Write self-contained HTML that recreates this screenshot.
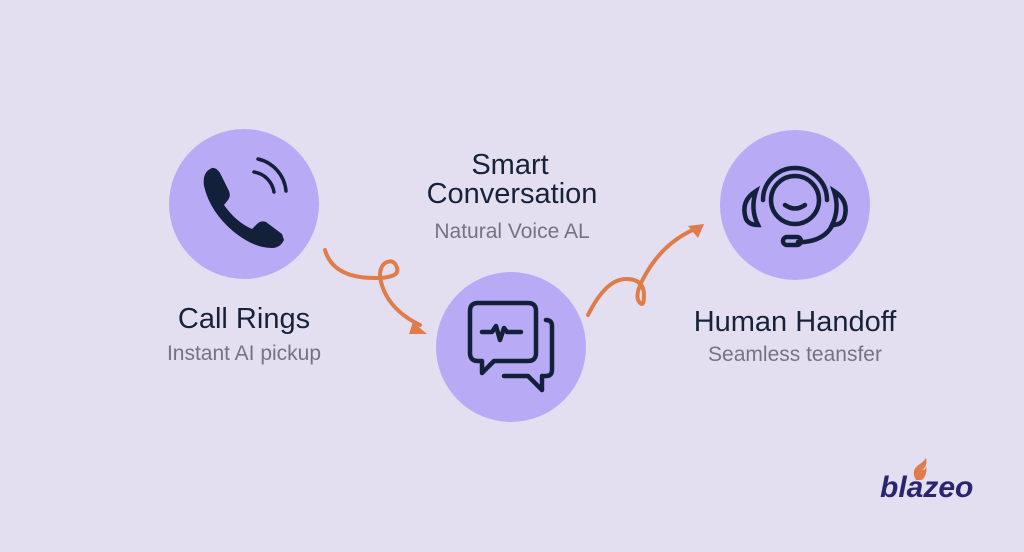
<!DOCTYPE html>
<html><head><style>
body{margin:0;width:1024px;height:552px;background:#e3dff0;position:relative;overflow:hidden;font-family:"Liberation Sans",sans-serif}
.t{position:absolute;text-align:center;color:#17223a;font-size:29px;white-space:nowrap;transform:translateX(-50%)}
.s{position:absolute;text-align:center;color:#767380;font-size:21px;white-space:nowrap;transform:translateX(-50%)}
</style></head><body>
<svg width="1024" height="552" style="position:absolute;left:0;top:0">
<circle cx="244" cy="204" r="75" fill="#b9aaf6"/>
<circle cx="511" cy="347" r="75" fill="#b9aaf6"/>
<circle cx="795" cy="205" r="75" fill="#b9aaf6"/>
<!-- phone -->
<path d="M212 168 q-10 4 -8 18 q6 26 30 46 q20 16 38 16 q8 0 12 -8 l-2 -6 l-16 -12 q-5 -2 -9 2 l-5 5 q-16 -7 -28 -24 l4 -5 q3 -4 1 -9 l-9 -18 q-4 -6 -8 -5z" fill="#13203a"/>
<path d="M254 172 a24 24 0 0 1 20 20 M258 159 a36 36 0 0 1 28 32" stroke="#13203a" stroke-width="3.5" fill="none" stroke-linecap="round"/>
<!-- chat -->
<g stroke="#13203a" stroke-width="4.5" fill="none" stroke-linejoin="round" stroke-linecap="round">
<path d="M478 303 h50 q8 0 8 8 v42 q0 8 -8 8 h-34 l-12 12 v-12 h-4 q-8 0 -8 -8 v-42 q0 -8 8 -8z"/>
<path d="M546 320 q6 0 6 6 v44 q0 6 -6 6 h-4 v14 l-14 -14 h-24"/>
<path d="M482 332 h10 l4 -6 l4 14 l4 -12 l3 4 h14"/>
</g>
<!-- headset -->
<g stroke="#13203a" stroke-width="4.5" fill="none" stroke-linecap="round">
<circle cx="795" cy="200" r="24"/>
<path d="M763 200 a32 32 0 0 1 64 0"/>
<path d="M756 191 q-16 10 -10 28 q3 6 12 6 q-8 -16 -2 -34z"/>
<path d="M834 191 q16 10 10 28 q-3 6 -12 6 q8 -16 2 -34z"/>
<path d="M785 205 q10 7 20 0"/>
<path d="M832 226 q-8 14 -28 16 h-6"/>
<rect x="783" y="237" width="18" height="8" rx="4"/>
</g>
<!-- arrows -->
<g stroke="#e07b4a" stroke-width="4" fill="none" stroke-linecap="round">
<path d="M325 250 q8 28 50 28 q25 0 22 -10 q-3 -10 -12 -5 q-10 8 0 30 q10 20 35 32"/>
<path d="M588 315 q18 -36 38 -36 q18 0 18 16 q0 12 -4 8 q-6 -6 2 -22 q20 -40 58 -54"/>
</g>
<path d="M427 334 l-14 -12 l-4 12z" fill="#e07b4a"/>
<path d="M704 224 l-16 2 l10 12z" fill="#e07b4a"/>
</svg>
<div class="t" style="left:244px;top:303px">Call Rings</div>
<div class="s" style="left:244px;top:342px">Instant AI pickup</div>
<div class="t" style="left:510px;top:149px">Smart</div>
<div class="t" style="left:512px;top:178px">Conversation</div>
<div class="s" style="left:512px;top:220px">Natural Voice AL</div>
<div class="t" style="left:795px;top:306px">Human Handoff</div>
<div class="s" style="left:795px;top:343px">Seamless teansfer</div>
<div style="position:absolute;left:880px;top:471px;font-size:30px;font-weight:bold;font-style:italic;color:#2a2570">blazeo</div>
<svg width="20" height="24" style="position:absolute;left:910px;top:458px"><path d="M6 22 q-6 -10 4 -16 q4 -3 6 -6 q2 8 -4 12 q4 0 4 -4 q2 8 -4 14z" fill="#e07b4a"/></svg>
</body></html>
